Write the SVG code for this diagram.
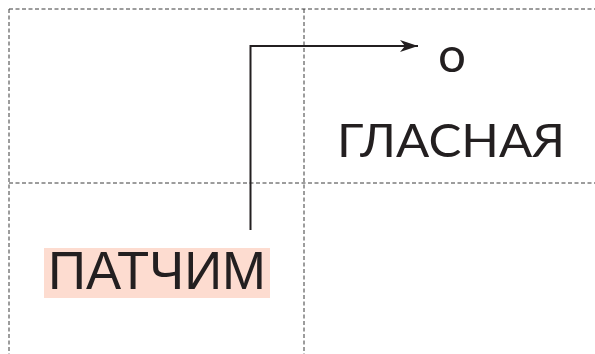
<svg xmlns="http://www.w3.org/2000/svg" width="595" height="354" viewBox="0 0 595 354">
  <style>
    .grid { stroke: #3a3a3a; stroke-width: 1; stroke-dasharray: 4 2.5; fill: none; }
    .conn { stroke: #231f20; stroke-width: 2; fill: none; }
    .geo { font-family: Lato, "Open Sans", sans-serif; fill: #231f20; }
    .ari { font-family: "Liberation Sans", Arial, sans-serif; fill: #231f20; }
  </style>
  <defs>
    <marker id="arr" viewBox="0 0 18 12" refX="18" refY="6" markerWidth="18" markerHeight="12" markerUnits="userSpaceOnUse" orient="auto">
      <path d="M0,0 L18,6 L0,12 L5,6 Z" fill="#231f20"/>
    </marker>
  </defs>
  <rect width="595" height="354" fill="#fff"/>
  <g id="grid">
    <line class="grid" x1="9" y1="9" x2="595" y2="9"/>
    <line class="grid" x1="9" y1="183" x2="595" y2="183"/>
    <line class="grid" x1="9" y1="9" x2="9" y2="354"/>
    <line class="grid" x1="304" y1="9" x2="304" y2="354"/>
  </g>
  <g id="connectors">
    <path class="conn" d="M250.5,230 V46 H418" marker-end="url(#arr)"/>
  </g>
  <g id="node-o">
    <text class="geo" x="452" y="72" font-size="48" font-weight="400" text-anchor="middle" textLength="28" lengthAdjust="spacingAndGlyphs">о</text>
  </g>
  <g id="node-glasnaya">
    <text class="geo" x="337" y="157" font-size="47" textLength="228" lengthAdjust="spacingAndGlyphs">ГЛАСНАЯ</text>
  </g>
  <g id="node-patchim">
    <rect x="44" y="248" width="226" height="50" fill="#fddcd0"/>
    <text class="ari" x="48" y="289" font-size="53" textLength="218" lengthAdjust="spacingAndGlyphs">ПАТЧИМ</text>
  </g>
</svg>
